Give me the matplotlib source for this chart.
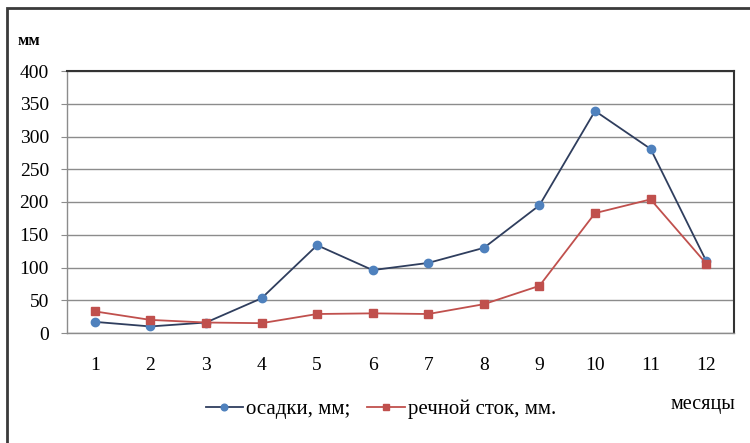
import matplotlib
matplotlib.use("Agg")
import matplotlib.pyplot as plt
from matplotlib.patches import Rectangle

# Monthly values, mm
months = list(range(1, 13))
osadki = [17, 10, 16, 53, 134, 96, 107, 130, 195, 339, 281, 110]
stok = [33, 20, 16, 15, 29, 30, 29, 44, 72, 183, 204, 106]
yticks = [0, 50, 100, 150, 200, 250, 300, 350, 400]

plt.rcParams["font.family"] = ["Liberation Serif", "DejaVu Serif"]

W, H = 750, 443
fig = plt.figure(figsize=(W / 100, H / 100), dpi=100)
fig.patch.set_facecolor("white")

# outer chart border (left and top edges visible)
fig.patches.append(Rectangle((7 / W, -0.1), 1.2, 1 - 8 / H + 0.1,
                             transform=fig.transFigure, fill=False,
                             edgecolor="#3a3a3a", linewidth=2.0))

x0, x1, y0, y1 = 67, 734, 71, 333
ax = fig.add_axes([x0 / W, 1 - y1 / H, (x1 - x0) / W, (y1 - y0) / H])

ax.plot(months, osadki, color="#2f3e5e", linewidth=1.3, marker="o",
        markersize=6, markerfacecolor="#4f81bd", markeredgecolor="#4f81bd",
        label="осадки, мм;", zorder=3)
ax.plot(months, stok, color="#c0504d", linewidth=1.3, marker="s",
        markersize=6, markerfacecolor="#c0504d", markeredgecolor="#c0504d",
        label="речной сток, мм.", zorder=3)

ax.set_xlim(0.5, 12.5)
ax.set_ylim(0, 400)
ax.set_yticks(yticks)
ax.set_xticks(months)
ax.yaxis.grid(True, color="#8c8c8c", linewidth=1.0)
ax.set_axisbelow(True)

ax.tick_params(axis="y", length=4, color="#8c8c8c", labelsize=14, pad=9)
ax.tick_params(axis="x", length=0, labelsize=14, pad=17)

for side in ("top", "right"):
    ax.spines[side].set_color("#333333")
    ax.spines[side].set_linewidth(1.5)
for side in ("left", "bottom"):
    ax.spines[side].set_color("#8c8c8c")
    ax.spines[side].set_linewidth(1.0)

fig.text(18 / W, 1 - 41 / H, "мм", fontsize=12, fontweight="bold",
         va="center", ha="left")
fig.text(735 / W, 1 - 405 / H, "месяцы", fontsize=14.5, va="center",
         ha="right")

fig.legend(loc="center", bbox_to_anchor=(381 / W, 1 - 409 / H), ncol=2,
           frameon=False, fontsize=15, handlelength=1.8, handletextpad=0.15,
           columnspacing=0.8, markerscale=0.8, borderpad=0.2)

fig.savefig("out.png", dpi=100, facecolor="white")
